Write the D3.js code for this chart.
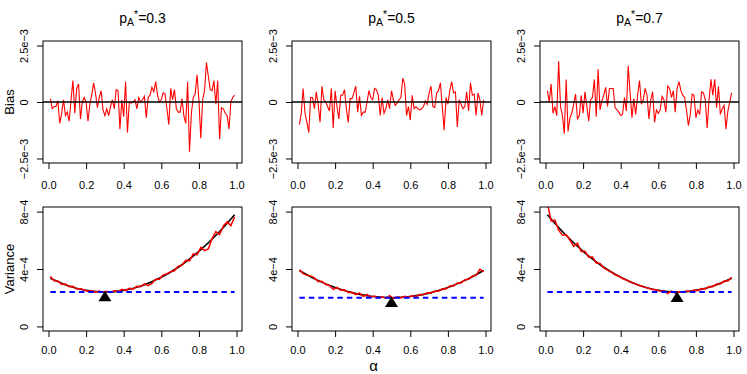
<!DOCTYPE html>
<html>
<head>
<meta charset="utf-8">
<script src="https://cdn.jsdelivr.net/npm/d3@7"></script>
<style>
body { margin: 0; background: #fff; }
svg { display: block; font-family: "Liberation Sans", Arial, sans-serif; }
</style>
</head>
<body>
<svg id="chart" width="747" height="374"></svg>
<script>
// alpha grid of the simulation (0.01 .. 0.99) and the coarser grid used for the variance traces
var alphas = d3.range(1, 100).map(function (i) { return i / 100; });
var alphasVar = d3.range(0, 50).map(function (i) { return (1 + 2 * i) / 100; });
var alphasCurve = [0.01, 0.1, 0.2, 0.3, 0.4, 0.5, 0.6, 0.7, 0.8, 0.9, 0.99];

var pStar = [0.3, 0.5, 0.7];
var xTicks = [0, 0.2, 0.4, 0.6, 0.8, 1];

// bias, in units of 1e-3
var bias03 = [0.15,-0.3,-0.2,-0.2,0.05,-0.95,-0.5,0.1,-0.6,-0.45,
  -0.85,0.1,0.95,-0.5,0.6,0.8,-0.75,0.0,0.2,0.0,
  -0.85,-0.1,0.3,0.85,0.4,-0.25,0.2,0.5,-0.35,-0.6,
  -0.3,-0.6,-0.2,0.1,-0.3,0.55,0.5,-1.2,0.1,-0.65,
  0.9,-1.35,0.0,-0.05,0.0,0.1,-0.3,0.2,0.0,0.1,
  0.25,-0.7,0.2,0.3,0.65,0.45,0.9,0.3,0.0,0.1,
  0.4,0.35,-0.3,-1.0,0.6,0.1,0.55,-0.3,-0.45,-0.45,
  0.15,-0.6,-0.95,0.9,-2.2,-0.5,0.2,0.35,1.2,0.1,
  -1.6,0.1,0.5,1.75,1.15,0.55,0.5,0.95,-0.1,0.95,
  -1.65,-0.25,-0.3,-0.5,-0.6,-1.2,0.0,0.2,0.3];
var bias05 = [-1.0,-0.5,0.6,-0.5,-0.9,-1.35,0.2,0.2,-0.3,0.45,
  -0.1,-0.9,0.7,0.1,0.0,-0.2,-0.4,0.6,-1.15,0.5,
  -0.2,-0.75,0.3,0.3,0.55,-0.3,-0.9,0.15,0.15,0.4,
  0.7,-0.45,0.25,-0.6,-0.45,-0.45,0.0,0.5,0.2,0.1,
  0.6,0.55,0.3,-0.6,0.2,-0.5,-0.3,0.1,-0.3,0.5,
  0.1,-0.15,-0.05,0.1,0.2,1.05,0.8,-0.6,-0.2,-0.8,
  0.3,-0.3,-0.2,-0.3,-0.35,-0.3,-0.2,0.05,-0.1,0.4,
  0.7,-0.2,-0.25,0.4,0.5,0.85,-0.2,-1.25,0.2,-0.1,
  0.5,0.9,0.4,0.45,-1.1,0.1,-0.1,-0.3,-0.2,0.45,
  -0.4,0.85,0.3,0.35,-0.6,0.4,0.1,-0.6,0.1];
var bias07 = [0.5,0.0,0.8,-0.5,-0.2,-0.6,1.8,-0.2,-0.6,-1.4,
  1.0,-1.3,-0.7,-0.5,-0.1,0.35,-0.75,-0.6,0.3,-0.5,
  0.45,-0.2,-0.85,0.1,0.2,1.0,-0.65,1.45,-0.35,0.05,
  0.3,0.65,-0.2,0.6,0.6,0.6,-0.25,-0.35,-0.45,-0.6,
  -0.55,0.2,-0.4,1.6,0.4,-0.7,0.15,-0.55,0.3,0.95,
  -0.1,0.1,0.6,0.3,-0.75,0.1,0.45,-0.9,-0.35,-0.5,
  -0.35,0.25,0.1,-0.45,0.7,0.6,0.2,0.5,-0.45,0.6,
  0.9,0.5,0.3,0.2,-0.35,-1.05,-0.55,0.35,0.3,-0.7,
  -0.35,-0.55,0.45,0.4,0.1,-1.15,0.1,1.0,0.3,1.0,
  -0.25,0.7,-0.55,-0.3,-0.15,-1.2,-0.4,0.0,0.4];

// variance, in units of 1e-4: theoretical curve, simulated trace, minimum level
var varTheory03 = [3.35,2.85,2.51,2.40,2.51,2.85,3.42,4.21,5.23,6.47,7.78];
var varTheory05 = [3.90,3.26,2.71,2.32,2.08,2.00,2.08,2.32,2.71,3.26,3.90];
var varTheory07 = [7.78,6.47,5.23,4.21,3.42,2.85,2.51,2.40,2.51,2.85,3.35];

var varSim03 = [3.48,3.18,3.16,2.93,2.96,2.76,2.80,2.60,2.63,2.54,
  2.43,2.50,2.38,2.46,2.36,2.44,2.37,2.48,2.42,2.58,
  2.49,2.66,2.60,2.80,2.76,2.96,2.84,2.99,3.28,3.28,
  3.58,3.66,3.82,3.88,4.20,4.25,4.60,4.58,5.05,5.00,
  5.50,5.28,5.40,6.12,6.60,6.40,7.00,7.28,7.02,7.62];
var varSim05 = [3.95,3.68,3.56,3.52,3.38,3.12,3.14,2.92,2.85,2.58,
  2.72,2.52,2.55,2.36,2.38,2.22,2.32,2.10,2.22,2.04,
  2.12,1.99,2.07,1.97,2.14,1.95,2.05,1.99,2.10,2.03,
  2.14,2.09,2.22,2.20,2.34,2.31,2.47,2.45,2.62,2.60,
  2.82,2.82,3.03,3.03,3.25,3.28,3.52,3.56,3.98,3.82];
var varSim07 = [8.60,7.35,7.40,6.70,6.35,6.38,6.02,5.58,5.80,5.22,
  5.24,4.82,4.84,4.42,4.38,4.08,3.92,3.80,3.60,3.50,
  3.34,3.23,3.10,3.00,2.88,2.81,2.72,2.66,2.57,2.55,
  2.46,2.47,2.28,2.46,2.31,2.43,2.36,2.47,2.43,2.53,
  2.49,2.64,2.61,2.78,2.77,2.95,2.96,3.16,3.17,3.42];

var varMin = [2.40, 2.00, 2.40];
var triangleY = [2.1, 1.7, 2.05];
var minSpan = [0.01, 0.99];

var biasTicks = [-2.5, 0, 2.5], biasTickLabels = ["\u22122.5e\u22123", "0", "2.5e\u22123"];
var varTicks = [0, 4, 8], varTickLabels = ["0", "4e\u22124", "8e\u22124"];

var bias = [bias03, bias05, bias07];
var varTheory = [varTheory03, varTheory05, varTheory07];
var varSim = [varSim03, varSim05, varSim07];

var svg = d3.select("#chart");
var lefts = [43, 292, 540];
var pw = 199;
var rows = [{top: 41, bottom: 163, lab: 18}, {top: 207, bottom: 331, lab: 15}];

function clip(x, row, id) {
    svg.append("clipPath").attr("id", id)
        .append("rect")
        .attr("x", x.range()[0]).attr("y", row.top)
        .attr("width", x.range()[1] - x.range()[0]).attr("height", row.bottom - row.top);
}

function axes(g, x, y, row, ticks, labels) {
    var gx = g.append("g")
        .attr("transform", "translate(0," + row.bottom + ")")
        .call(d3.axisBottom(x).tickValues(xTicks).tickFormat(d3.format(".1f")).tickSize(6).tickSizeOuter(0));
    gx.select(".domain").remove();
    gx.selectAll("text").attr("y", row.lab).style("font-size", "11px").attr("fill", "#000");

    var gy = g.append("g")
        .attr("transform", "translate(" + x.range()[0] + ",0)")
        .call(d3.axisLeft(y).tickValues(ticks).tickFormat(function (d, i) { return labels[i]; }).tickSize(6).tickSizeOuter(0));
    gy.select(".domain").remove();
    gy.selectAll("text")
        .attr("x", null).attr("dy", null)
        .attr("text-anchor", "middle")
        .attr("transform", "translate(-15,0) rotate(-90)")
        .style("font-size", "11px").attr("fill", "#000");
    g.selectAll(".tick line").attr("stroke", "#000");

    g.append("rect")
        .attr("x", x.range()[0]).attr("y", row.top)
        .attr("width", x.range()[1] - x.range()[0]).attr("height", row.bottom - row.top)
        .attr("fill", "none").attr("stroke", "#000").attr("stroke-width", 1);
}

pStar.forEach(function (p, i) {
    var x = d3.scaleLinear().domain([-0.0292, 1.0292]).range([lefts[i], lefts[i] + pw]);

    // ---- top row: bias
    var yB = d3.scaleLinear().domain([-2.7, 2.7]).range([rows[0].bottom, rows[0].top]);
    var gt = svg.append("g");
    clip(x, rows[0], "clipT" + i);
    var plotT = gt.append("g").attr("clip-path", "url(#clipT" + i + ")");

    plotT.append("path")
        .datum(alphas.map(function (a, j) { return [a, bias[i][j]]; }))
        .attr("fill", "none").attr("stroke", "#ff0000").attr("stroke-width", 1.1)
        .attr("d", d3.line().x(function (d) { return x(d[0]); }).y(function (d) { return yB(d[1]); }));

    plotT.append("line")
        .attr("x1", x.range()[0]).attr("x2", x.range()[1])
        .attr("y1", yB(0)).attr("y2", yB(0))
        .attr("stroke", "#000").attr("stroke-width", 1.6);

    axes(gt, x, yB, rows[0], biasTicks, biasTickLabels);

    var title = gt.append("text")
        .attr("x", lefts[i] + pw / 2).attr("y", 23)
        .attr("text-anchor", "middle").style("font-size", "14px");
    title.append("tspan").text("p");
    title.append("tspan").attr("dy", 3).style("font-size", "10.5px").text("A");
    title.append("tspan").attr("dy", -8).style("font-size", "10.5px").text("*");
    title.append("tspan").attr("dy", 5).text("=" + p);

    // ---- bottom row: variance
    var yV = d3.scaleLinear().domain([-0.32, 8.32]).range([rows[1].bottom, rows[1].top]);
    var gb = svg.append("g");
    clip(x, rows[1], "clipB" + i);
    var plotB = gb.append("g").attr("clip-path", "url(#clipB" + i + ")");

    plotB.append("path")
        .datum(alphasCurve.map(function (a, j) { return [a, varTheory[i][j]]; }))
        .attr("fill", "none").attr("stroke", "#000").attr("stroke-width", 1.6)
        .attr("d", d3.line().curve(d3.curveNatural).x(function (d) { return x(d[0]); }).y(function (d) { return yV(d[1]); }));

    plotB.append("path")
        .datum(alphasVar.map(function (a, j) { return [a, varSim[i][j]]; }))
        .attr("fill", "none").attr("stroke", "#ff0000").attr("stroke-width", 1.5)
        .attr("d", d3.line().x(function (d) { return x(d[0]); }).y(function (d) { return yV(d[1]); }));

    plotB.append("line")
        .attr("x1", x(minSpan[0])).attr("x2", x(minSpan[1]))
        .attr("y1", yV(varMin[i])).attr("y2", yV(varMin[i]))
        .attr("stroke", "#0000ff").attr("stroke-width", 2)
        .attr("stroke-dasharray", "5.5,4");

    var cx = x(p), cy = yV(triangleY[i]);
    plotB.append("path")
        .attr("d", "M" + cx + "," + (cy - 5.5) + "L" + (cx - 6.5) + "," + (cy + 5) + "L" + (cx + 6.5) + "," + (cy + 5) + "Z")
        .attr("fill", "#000");

    axes(gb, x, yV, rows[1], varTicks, varTickLabels);
});

svg.append("text").attr("transform", "translate(14,102) rotate(-90)")
    .attr("text-anchor", "middle").style("font-size", "13px").text("Bias");
svg.append("text").attr("transform", "translate(14,269) rotate(-90)")
    .attr("text-anchor", "middle").style("font-size", "13px").text("Variance");
svg.append("text").attr("x", 373.5).attr("y", 371)
    .attr("text-anchor", "middle").style("font-size", "15px").text("\u03b1");
</script>
</body>
</html>
